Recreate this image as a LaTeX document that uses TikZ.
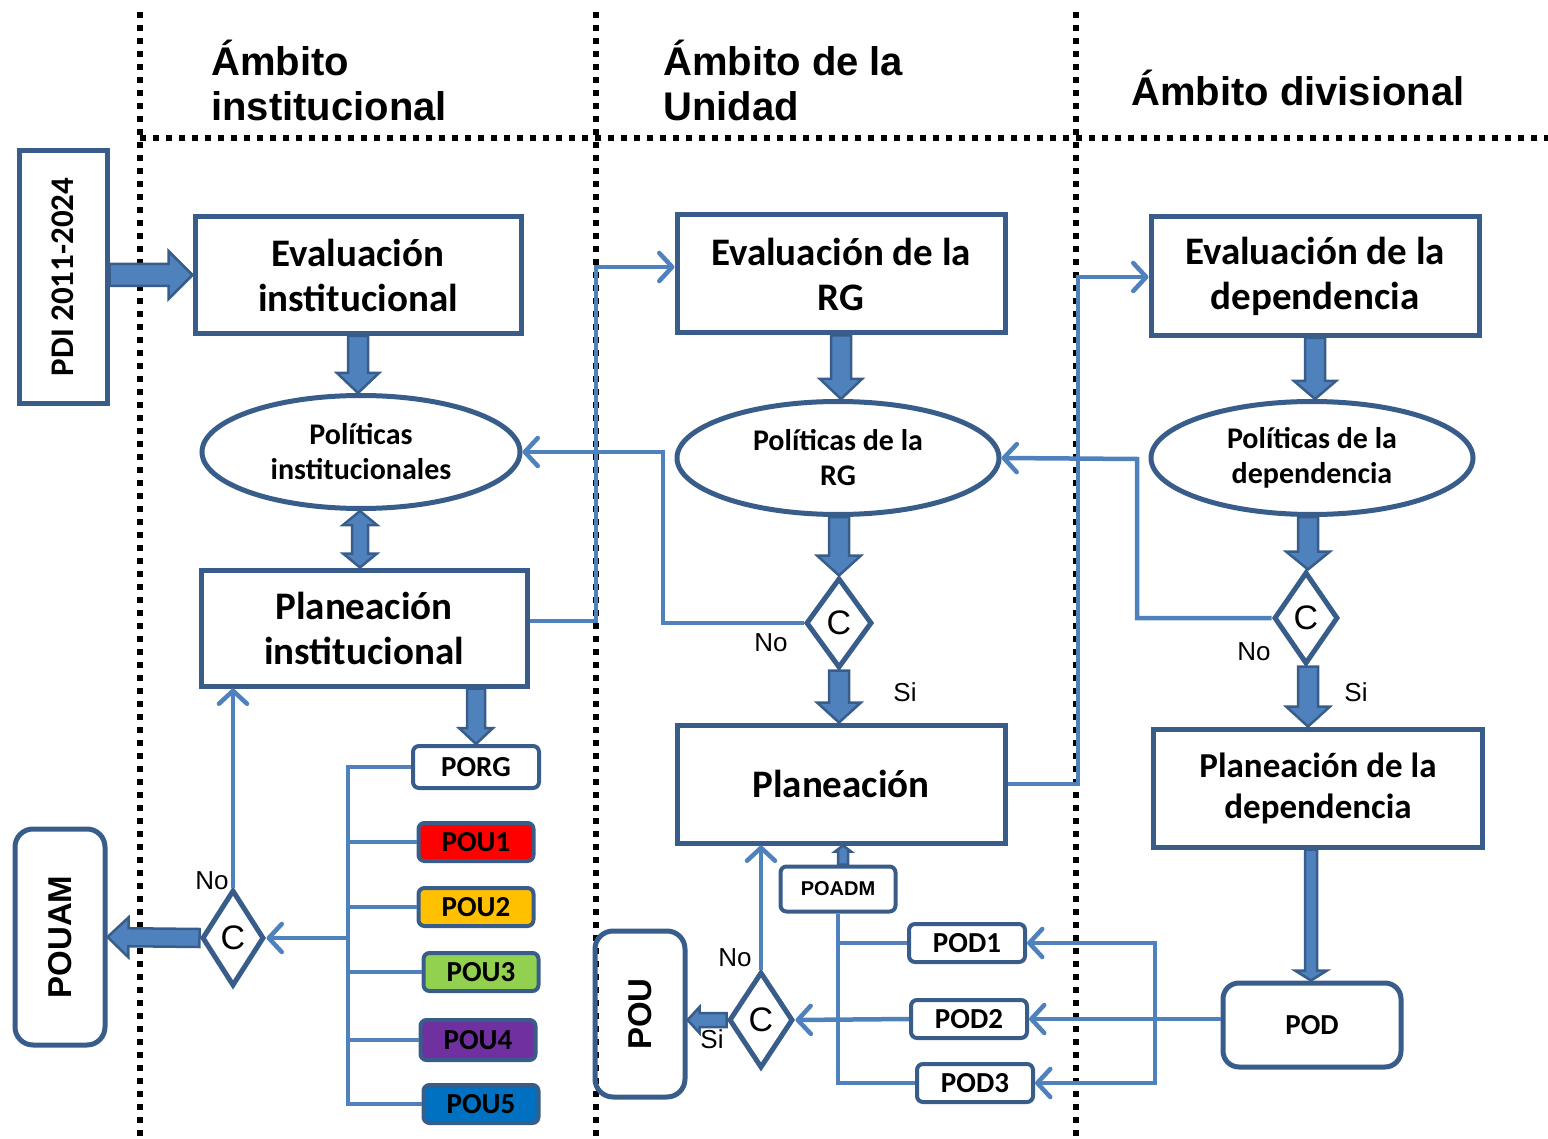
\documentclass[tikz,border=0pt]{standalone}
\usepackage{fontspec}
\setmainfont{Carlito}
\newfontfamily\arialf{Liberation Sans}
\usepackage{xcolor}
\usepackage{tikz}
\usetikzlibrary{calc,shapes.geometric,arrows.meta}

\definecolor{bord}{HTML}{385D8A}
\definecolor{lineblue}{HTML}{4F81BD}
\definecolor{pouyellow}{HTML}{FFC000}
\definecolor{pougreen}{HTML}{92D050}
\definecolor{poupurple}{HTML}{7030A0}
\definecolor{poublue}{HTML}{0070C0}

% flecha gruesa: inicio, fin, medio cuerpo, media punta, largo punta
\newcommand{\blockarrow}[5]{%
  \coordinate (ba-s) at (#1);
  \coordinate (ba-t) at (#2);
  \coordinate (ba-m) at ($(ba-t)!#5!(ba-s)$);
  \filldraw[bigarrow] ($(ba-s)!#3!90:(ba-t)$) -- ($(ba-m)!#3!90:(ba-t)$) -- ($(ba-m)!#4!90:(ba-t)$) -- (ba-t)
    -- ($(ba-m)!#4!-90:(ba-t)$) -- ($(ba-m)!#3!-90:(ba-t)$) -- ($(ba-s)!#3!-90:(ba-t)$) -- cycle;
}
% flecha gruesa con dos puntas
\newcommand{\dblockarrow}[5]{%
  \coordinate (ba-s) at (#1);
  \coordinate (ba-t) at (#2);
  \coordinate (ba-a) at ($(ba-s)!#5!(ba-t)$);
  \coordinate (ba-b) at ($(ba-t)!#5!(ba-s)$);
  \filldraw[bigarrow] (ba-s) -- ($(ba-a)!#4!90:(ba-t)$) -- ($(ba-a)!#3!90:(ba-t)$) -- ($(ba-b)!#3!90:(ba-t)$)
    -- ($(ba-b)!#4!90:(ba-t)$) -- (ba-t) -- ($(ba-b)!#4!-90:(ba-t)$) -- ($(ba-b)!#3!-90:(ba-t)$)
    -- ($(ba-a)!#3!-90:(ba-t)$) -- ($(ba-a)!#4!-90:(ba-t)$) -- cycle;
}

\tikzset{
  box/.style={draw=bord, line width=5pt, fill=white, align=center, inner sep=0pt,
    font=\fontsize{39}{45}\selectfont\bfseries},
  ell/.style={ellipse, draw=bord, line width=5pt, fill=white, align=center, inner sep=0pt,
    font=\fontsize{30}{35}\selectfont\bfseries},
  pobox/.style={draw=bord, line width=4pt, rounded corners=6pt, inner sep=0pt,
    font=\fontsize{29}{30}\selectfont\bfseries},
  bigbox/.style={draw=bord, line width=5pt, rounded corners=18pt, inner sep=0pt,
    font=\arialf\fontsize{33}{33}\selectfont\bfseries},
  cbox/.style={diamond, draw=bord, line width=5pt, fill=white, inner sep=0pt,
    font=\arialf\fontsize{34}{34}\selectfont},
  head/.style={anchor=west, align=left, inner sep=0pt, font=\arialf\fontsize{40}{45}\selectfont\bfseries},
  lbl/.style={inner sep=0pt, font=\arialf\fontsize{26}{26}\selectfont},
  conn/.style={draw=lineblue, line width=4.5pt},
  dotline/.style={line width=6pt, dash pattern=on 6pt off 7pt},
  bigarrow/.style={fill=lineblue, draw=bord, line width=2.5pt},
  >={Straight Barb[length=13pt,width=28pt,round]}
}

\begin{document}
\begin{tikzpicture}[x=1pt,y=-1pt]
  \useasboundingbox (0,0) rectangle (1548,1139);

  % Lineas punteadas
  \draw[dotline] (140,12) -- (140,1139);
  \draw[dotline] (596,12) -- (596,1139);
  \draw[dotline] (1076,12) -- (1076,1139);
  \draw[dotline] (140,138) -- (1548,138);

  % Encabezados
  \node[head] (h1) at (211,80) {Ámbito\\institucional};
  \node[head] (h2) at (663,80) {Ámbito de la\\Unidad};
  \node[head] (h3) at (1131,88) {Ámbito divisional};

  % Ambito institucional
  \node[draw=bord, line width=5pt, minimum width=88pt, minimum height=253pt, inner sep=0pt,
    font=\fontsize{33}{33}\selectfont\bfseries] (pdi) at (63,277) {\rotatebox{90}{PDI 2011-2024}};
  \node[box, minimum width=326pt, minimum height=117pt] (eins) at (358,275) {Evaluación\\institucional};
  \node[ell, minimum width=318pt, minimum height=113pt] (poli) at (361,452) {Políticas\\institucionales};
  \node[box, minimum width=326pt, minimum height=116pt] (pins) at (364,628) {Planeación\\institucional};
  \node[pobox, fill=white, minimum width=126pt, minimum height=42pt] (porg) at (476,767) {PORG};
  \node[pobox, fill=red, minimum width=115pt, minimum height=38pt] (pou1) at (476,842) {POU1};
  \node[pobox, fill=pouyellow, minimum width=115pt, minimum height=38pt] (pou2) at (476,907) {POU2};
  \node[pobox, fill=pougreen, minimum width=115pt, minimum height=38pt] (pou3) at (481,972) {POU3};
  \node[pobox, fill=poupurple, minimum width=115pt, minimum height=40pt] (pou4) at (478,1040) {POU4};
  \node[pobox, fill=poublue, minimum width=115pt, minimum height=38pt] (pou5) at (481,1104) {POU5};
  \node[cbox, minimum width=62pt, minimum height=96pt] (cl) at (233,938) {C};
  \node[bigbox, minimum width=90pt, minimum height=216pt] (pouam) at (60,937) {\rotatebox{90}{POUAM}};
  \node[lbl] (nol) at (212,881) {No};

  \blockarrow{pdi.east |- eins.west}{eins.west}{11pt}{24pt}{24pt}
  \blockarrow{eins.south}{eins.south |- poli.north}{10pt}{21pt}{20pt}
  \dblockarrow{poli.south -| 360,0}{pins.north -| 360,0}{8pt}{17pt}{14pt}
  \blockarrow{porg.north |- pins.south}{porg.north}{9pt}{17pt}{16pt}

  \coordinate (bkl) at (348,938);
  \draw[conn] (porg.west) -| (bkl |- pou5.west) -- (pou5.west);
  \draw[conn] (bkl |- pou1.west) -- (pou1.west);
  \draw[conn] (bkl |- pou2.west) -- (pou2.west);
  \draw[conn] (bkl |- pou3.west) -- (pou3.west);
  \draw[conn] (bkl |- pou4.west) -- (pou4.west);
  \draw[conn,->] (bkl) -- (cl.east);
  \draw[conn,->] (cl.north) -- (cl.north |- pins.south);
  \blockarrow{cl.west}{pouam.east}{9pt}{20pt}{21pt}

  % Ambito de la Unidad
  \node[box, minimum width=328pt, minimum height=118pt] (erg) at (841,274) {Evaluación de la\\RG};
  \node[ell, minimum width=322pt, minimum height=113pt] (prg) at (838,458) {Políticas de la\\RG};
  \node[cbox, minimum width=66pt, minimum height=90pt] (crg) at (839,623) {C};
  \node[box, minimum width=328pt, minimum height=118pt] (plan) at (841,784) {Planeación};
  \node[pobox, fill=white, minimum width=115pt, minimum height=45pt,
    font=\arialf\fontsize{20}{20}\selectfont\bfseries] (poadm) at (838,889) {POADM};
  \node[pobox, fill=white, minimum width=116pt, minimum height=38pt] (pod1) at (967,943) {POD1};
  \node[pobox, fill=white, minimum width=116pt, minimum height=38pt] (pod2) at (969,1019) {POD2};
  \node[pobox, fill=white, minimum width=116pt, minimum height=38pt] (pod3) at (975,1083) {POD3};
  \node[cbox, minimum width=64pt, minimum height=96pt] (cm) at (761,1020) {C};
  \node[bigbox, minimum width=90pt, minimum height=166pt] (pou) at (640,1014) {\rotatebox{90}{POU}};
  \node[lbl] (norg) at (771,643) {No};
  \node[lbl] (sirg) at (905,692) {Si};
  \node[lbl] (nom) at (735,958) {No};
  \node[lbl] (sim) at (712,1039) {Si};

  \coordinate (j1) at (596,267);
  \draw[conn,->] ([yshift=7pt]pins.east) -| (j1) -- (j1 -| erg.west);
  \coordinate (j2) at (663,452);
  \draw[conn,->] (crg.west) -| (j2) -- (poli.east);
  \blockarrow{erg.south}{erg.south |- prg.north}{10pt}{21pt}{20pt}
  \blockarrow{prg.south -| crg.north}{crg.north}{10pt}{22pt}{20pt}
  \blockarrow{crg.south}{crg.south |- plan.north}{10pt}{22pt}{20pt}
  \blockarrow{poadm.north -| 843,0}{plan.south -| 843,0}{5pt}{8pt}{6pt}
  \draw[conn] (poadm.south) -- (poadm.south |- pod3.west) -- (pod3.west);
  \draw[conn] (poadm.south |- pod1.west) -- (pod1.west);
  \draw[conn,->] (pod2.west) -- (cm.east);
  \draw[conn,->] (cm.north) -- (cm.north |- plan.south);
  \blockarrow{cm.west}{cm.west -| pou.east}{7pt}{13pt}{12pt}

  % Ambito divisional
  \node[box, minimum width=328pt, minimum height=119pt] (edep) at (1315,276) {Evaluación de la\\dependencia};
  \node[ell, minimum width=322pt, minimum height=113pt] (pdep) at (1312,458) {Políticas de la\\dependencia};
  \node[cbox, minimum width=64pt, minimum height=92pt] (cd) at (1306,618) {C};
  \node[box, minimum width=329pt, minimum height=118pt, font=\fontsize{35}{41}\selectfont\bfseries]
    (pldep) at (1318,788) {Planeación de la\\dependencia};
  \node[pobox, line width=5pt, rounded corners=16pt, fill=white, minimum width=178pt, minimum height=84pt]
    (pod) at (1312,1025) {POD};
  \node[lbl] (nod) at (1254,652) {No};
  \node[lbl] (sid) at (1356,692) {Si};

  \coordinate (j3) at (1078,277);
  \draw[conn,->] (plan.east) -| (j3) -- (j3 -| edep.west);
  \coordinate (j4) at (1137,459);
  \draw[conn,->] (cd.west) -| (j4) -- (prg.east);
  \blockarrow{edep.south -| 1315,0}{pdep.north -| 1315,0}{10pt}{21pt}{18pt}
  \blockarrow{pdep.south -| 1308,0}{cd.north -| 1308,0}{10pt}{22pt}{18pt}
  \blockarrow{cd.south -| 1308,0}{pldep.north -| 1308,0}{10pt}{22pt}{20pt}
  \blockarrow{pldep.south -| 1311,0}{pod.north -| 1311,0}{6pt}{16pt}{10pt}

  \coordinate (j5) at (1155,1019);
  \draw[conn,->] (pod.west |- j5) -- (pod2.east);
  \draw[conn,->] (j5) |- (pod1.east);
  \draw[conn,->] (j5) |- (pod3.east);
\end{tikzpicture}
\end{document}
